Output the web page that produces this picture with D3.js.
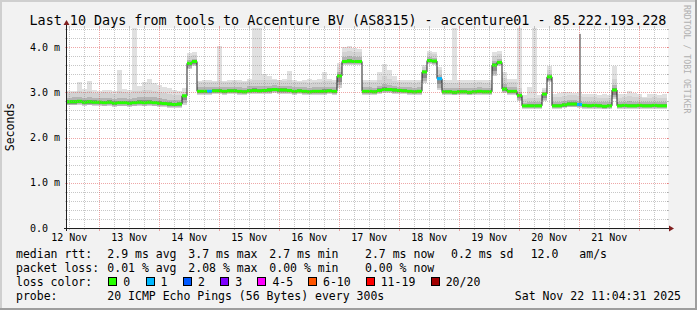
<!DOCTYPE html>
<html><head><meta charset="utf-8">
<script src="https://cdn.jsdelivr.net/npm/d3@7"></script>
<style>body{margin:0;background:#f2f2f2}svg{display:block}</style>
</head><body><svg id="c" width="697" height="310"></svg>
<script>
// ---- data (2-hour consolidated samples, 20 pings each) ----
const titleText = "Last 10 Days from tools to Accenture BV (AS8315) - accenture01 - 85.222.193.228";
const startTime = Date.UTC(2025, 10, 12, 11, 4, 31);
const stepHours = 2;
const median = [2.79,2.79,2.80,2.78,2.79,2.78,2.78,2.77,2.78,2.76,
2.77,2.77,2.76,2.77,2.78,2.77,2.78,2.77,2.76,2.75,
2.74,2.73,2.74,2.92,3.64,3.68,3.02,3.02,3.02,3.03,
3.03,3.02,3.03,3.03,3.02,3.01,3.03,3.04,3.03,3.04,
3.05,3.06,3.05,3.05,3.04,3.02,3.03,3.02,3.01,3.02,
3.02,3.02,3.03,3.02,3.36,3.68,3.69,3.68,3.68,3.02,
3.02,3.01,3.04,3.06,3.06,3.05,3.04,3.03,3.02,3.01,
3.02,3.45,3.70,3.69,3.30,3.01,3.01,3.00,3.01,3.01,
3.00,3.01,3.02,3.01,3.01,3.60,3.66,3.07,3.02,3.02,
2.93,2.70,2.70,2.70,2.70,2.96,3.34,2.70,2.70,2.72,
2.74,2.74,2.73,2.71,2.70,2.71,2.70,2.69,2.70,3.05,
2.70,2.71,2.70,2.70,2.71,2.70,2.70,2.71,2.70,2.70];
const pingMin = [2.71,2.71,2.72,2.70,2.71,2.70,2.70,2.69,2.70,2.68,
2.69,2.69,2.68,2.69,2.70,2.69,2.70,2.69,2.68,2.67,
2.66,2.65,2.66,2.72,3.52,3.58,2.94,2.95,2.95,2.96,
2.96,2.95,2.96,2.96,2.95,2.94,2.96,2.97,2.96,2.97,
2.97,2.98,2.97,2.97,2.96,2.95,2.96,2.95,2.94,2.95,
2.95,2.95,2.96,2.95,3.10,3.60,3.61,3.60,3.60,2.95,
2.95,2.94,2.96,2.98,2.98,2.97,2.96,2.96,2.95,2.94,
2.95,3.20,3.62,3.61,3.05,2.94,2.94,2.93,2.94,2.94,
2.93,2.94,2.95,2.94,2.94,3.35,3.58,2.98,2.95,2.95,
2.80,2.63,2.63,2.63,2.63,2.80,3.22,2.63,2.63,2.65,
2.67,2.67,2.66,2.64,2.63,2.64,2.63,2.62,2.63,2.85,
2.63,2.64,2.63,2.63,2.64,2.63,2.63,2.64,2.63,2.63];
const ping90 = [2.98,3.00,3.02,3.00,3.03,2.99,2.98,3.00,2.99,2.97,
3.02,3.00,2.98,3.02,3.03,3.05,3.06,3.03,3.00,2.98,
2.96,2.95,2.95,3.00,3.80,3.82,3.22,3.22,3.23,3.22,
3.24,3.22,3.23,3.24,3.22,3.22,3.25,3.28,3.27,3.26,
3.27,3.28,3.26,3.25,3.26,3.22,3.22,3.22,3.21,3.22,
3.22,3.25,3.24,3.22,3.55,3.90,3.92,3.90,3.88,3.22,
3.22,3.22,3.28,3.35,3.30,3.25,3.23,3.22,3.22,3.21,
3.22,3.55,3.86,3.85,3.50,3.20,3.21,3.20,3.21,3.20,
3.20,3.21,3.22,3.21,3.21,3.80,3.85,3.32,3.23,3.22,
3.10,2.86,2.88,2.88,2.87,3.05,3.50,2.90,2.90,2.92,
2.93,2.93,2.92,2.90,2.90,2.90,2.88,2.88,2.88,3.30,
2.88,2.90,2.92,2.90,2.89,2.88,2.88,2.89,2.88,2.88];
const pingMax = [3.02,3.03,3.22,3.08,3.24,3.05,3.02,3.06,3.04,3.03,
3.50,3.08,3.05,4.45,3.13,3.22,3.29,3.20,3.15,3.12,
3.10,3.05,3.02,3.10,3.86,3.88,3.25,3.26,3.27,3.24,
4.02,3.25,3.27,3.26,3.28,3.25,3.30,4.45,4.45,3.40,
3.35,3.30,3.28,3.30,3.47,3.28,3.25,3.28,3.30,3.26,
3.29,3.44,3.30,3.28,3.65,4.00,4.02,3.98,3.96,3.28,
3.27,3.28,3.45,3.62,3.50,3.35,3.28,3.27,3.26,3.27,
3.28,3.60,3.92,3.90,3.55,3.26,3.27,4.45,3.26,3.27,
3.26,3.27,3.28,3.26,3.27,3.90,3.92,3.45,3.30,3.30,
4.45,2.95,3.11,4.45,2.95,3.10,3.57,2.96,2.98,3.00,
3.00,2.99,3.00,2.97,2.96,2.97,2.95,2.96,2.95,3.57,
2.96,2.97,3.02,2.98,2.97,2.90,2.96,2.97,2.95,2.96];
const lossCount = [0,0,0,0,0,0,0,0,0,0, 0,0,0,0,0,0,0,0,0,0,
0,0,0,0,0,0,0,0,1,0, 0,0,0,0,0,0,0,0,0,0, 0,0,0,0,0,0,0,0,0,0,
0,0,0,0,0,0,0,0,0,0, 0,0,0,0,0,0,0,0,0,0, 0,0,0,0,1,0,0,0,0,0,
0,0,0,0,0,0,0,0,0,0, 0,0,0,0,0,0,0,0,0,0, 0,0,1,0,0,0,0,0,0,0,
0,0,0,0,0,0,0,0,0,0];
const spikeIndex = [102];
const spikeValue = [4.29];
const yTicks = [0,1,2,3,4];
const lossColors = ['#26ff00','#00b8ff','#0059ff','#7e00ff','#ff00ff','#ff5500','#ff0000','#a10000'];
const lossLabels = ['0','1','2','3','4-5','6-10','11-19','20/20'];
const rowLabels = ['median rtt:','packet loss:','loss color:','probe:'];
const rttStats = ['2.9 ms avg','3.7 ms max','2.7 ms min','2.7 ms now','0.2 ms sd','12.0','am/s'];
const lossStats = ['0.01 % avg','2.08 % max','0.00 % min','0.00 % now'];
const probeText = '20 ICMP Echo Pings (56 Bytes) every 300s';
const dateText = 'Sat Nov 22 11:04:31 2025';

// ---- layout ----
const W = 697, H = 310, X0 = 67, X1 = 667, Y0 = 228, Y1 = 28;
const MONO = "'DejaVu Sans Mono', monospace";
const HOUR = 3600e3;
const endTime = startTime + 240 * HOUR;
const n = median.length;
const tAt = i => startTime + i * stepHours * HOUR;

const svg = d3.select('#c');
const x = d3.scaleUtc().domain([startTime, endTime]).range([X0, X1]);
const y = d3.scaleLinear().domain([0, 4.42]).range([Y0, Y1]);

svg.append('rect').attr('width', W).attr('height', H).attr('fill', '#f2f2f2');
svg.append('rect').attr('x',0).attr('y',0).attr('width',W).attr('height',2).attr('fill','#cfcfcf');
svg.append('rect').attr('x',0).attr('y',0).attr('width',2).attr('height',H).attr('fill','#cfcfcf');
svg.append('rect').attr('x',0).attr('y',H-2).attr('width',W).attr('height',2).attr('fill','#9e9e9e');
svg.append('rect').attr('x',W-2).attr('y',0).attr('width',2).attr('height',H).attr('fill','#9e9e9e');

svg.append('rect').attr('x', X0).attr('y', Y1).attr('width', X1 - X0 + 1).attr('height', Y0 - Y1).attr('fill', '#fff');

svg.append('clipPath').attr('id','plotclip').append('rect')
  .attr('x', X0).attr('y', Y1).attr('width', X1 - X0).attr('height', Y0 - Y1);
const plot = svg.append('g').attr('clip-path', 'url(#plotclip)');

const idx = d3.range(n);
function band(lo, hi, color) {
  plot.append('g').attr('shape-rendering','crispEdges').selectAll('rect').data(idx).join('rect')
    .attr('x', i => x(tAt(i)))
    .attr('width', i => x(tAt(i + 1)) - x(tAt(i)))
    .attr('y', i => y(hi(i)))
    .attr('height', i => Math.max(0, y(lo(i)) - y(hi(i))))
    .attr('fill', color);
}
band(i => pingMin[i], i => pingMax[i], '#e0e0e0');
band(i => pingMin[i], i => ping90[i], '#d2d2d2');
band(i => median[i] - (median[i] - pingMin[i]) * 0.8, i => median[i] + (ping90[i] - median[i]) * 0.45, '#b4b4b4');
band(i => median[i] - (median[i] - pingMin[i]) * 0.5, i => median[i] + (ping90[i] - median[i]) * 0.18, '#8c8c8c');

plot.selectAll('rect.spike').data(spikeIndex).join('rect').attr('class','spike')
  .attr('x', (d) => x(tAt(d)) + 2).attr('width', 2)
  .attr('y', (d, k) => y(spikeValue[k]))
  .attr('height', (d, k) => y(median[d]) - y(spikeValue[k]))
  .attr('fill', '#999');

const pts = [];
idx.forEach(i => { pts.push([x(tAt(i)), y(median[i])]); pts.push([x(tAt(i + 1)), y(median[i])]); });
plot.append('path').attr('d', d3.line()(pts)).attr('fill','none').attr('stroke','#1f1f1f').attr('stroke-width',1);
plot.append('g').selectAll('rect').data(idx).join('rect')
  .attr('x', i => x(tAt(i)))
  .attr('width', i => x(tAt(i + 1)) - x(tAt(i)))
  .attr('y', i => y(median[i]) - 1.5).attr('height', 3)
  .attr('fill', i => lossColors[lossCount[i]]);

// grid (on top, like rrdtool)
const grid = svg.append('g').attr('shape-rendering','crispEdges');
const minorC = 'rgba(143,143,143,0.5)', majorC = 'rgba(222,79,79,0.5)';
const yMinor = d3.range(1, 23).map(k => k * 0.2).filter(v => Math.abs(v - Math.round(v)) > 1e-6);
yMinor.forEach(v => {
  const yy = Math.round(y(v)) + 0.5;
  grid.append('line').attr('x1', X0).attr('x2', X1 + 1).attr('y1', yy).attr('y2', yy).attr('stroke', minorC).attr('stroke-dasharray','1,1');
  grid.append('line').attr('x1', X0 - 2).attr('x2', X0).attr('y1', yy).attr('y2', yy).attr('stroke', minorC);
  grid.append('line').attr('x1', X1).attr('x2', X1 + 2).attr('y1', yy).attr('y2', yy).attr('stroke', minorC);
});
const xMinor = d3.utcHour.every(6).range(new Date(startTime), new Date(endTime)).filter(d => d.getUTCHours() !== 0);
xMinor.forEach(d => {
  const xx = Math.round(x(d)) + 0.5;
  grid.append('line').attr('x1', xx).attr('x2', xx).attr('y1', Y1).attr('y2', Y0).attr('stroke', minorC).attr('stroke-dasharray','1,1');
  grid.append('line').attr('x1', xx).attr('x2', xx).attr('y1', Y0).attr('y2', Y0 + 2).attr('stroke', minorC);
  grid.append('line').attr('x1', xx).attr('x2', xx).attr('y1', Y1 - 2).attr('y2', Y1).attr('stroke', minorC);
});
yTicks.filter(v => v > 0).forEach(v => {
  const yy = Math.round(y(v)) + 0.5;
  grid.append('line').attr('x1', X0).attr('x2', X1 + 1).attr('y1', yy).attr('y2', yy).attr('stroke', majorC).attr('stroke-dasharray','1,1');
  grid.append('line').attr('x1', X0 - 2).attr('x2', X0).attr('y1', yy).attr('y2', yy).attr('stroke', majorC);
  grid.append('line').attr('x1', X1).attr('x2', X1 + 2).attr('y1', yy).attr('y2', yy).attr('stroke', majorC);
});
const xMajor = d3.utcDay.range(new Date(startTime), new Date(endTime));
xMajor.forEach(d => {
  const xx = Math.round(x(d)) + 0.5;
  grid.append('line').attr('x1', xx).attr('x2', xx).attr('y1', Y1).attr('y2', Y0).attr('stroke', majorC).attr('stroke-dasharray','1,1');
  grid.append('line').attr('x1', xx).attr('x2', xx).attr('y1', Y0).attr('y2', Y0 + 3).attr('stroke', majorC);
  grid.append('line').attr('x1', xx).attr('x2', xx).attr('y1', Y1 - 2).attr('y2', Y1).attr('stroke', majorC);
});

// axes
const ax = svg.append('g').attr('shape-rendering','crispEdges');
ax.append('line').attr('x1', X0 - 3).attr('x2', X1 + 3).attr('y1', Y0 + 0.5).attr('y2', Y0 + 0.5).attr('stroke', '#1f1f1f');
ax.append('line').attr('x1', X0 - 0.5).attr('x2', X0 - 0.5).attr('y1', Y0 + 3).attr('y2', Y1 - 3).attr('stroke', '#1f1f1f');
svg.append('path').attr('d', `M${X1+2},${Y0-2.5}L${X1+7},${Y0+0.5}L${X1+2},${Y0+3.5}Z`).attr('fill', '#801f1f');
svg.append('path').attr('d', `M${X0-3.5},${Y1-3}L${X0-0.5},${Y1-8}L${X0+2.5},${Y1-3}Z`).attr('fill', '#801f1f');

svg.append('g').selectAll('text').data(yTicks).join('text')
  .attr('x', 30).attr('y', v => y(v) + 3.5)
  .attr('font-family', MONO).attr('font-size', 10).attr('fill', '#000')
  .text(v => v === 0 ? '0.0' : v.toFixed(1) + ' m');

const labelDays = d3.utcDay.range(new Date(startTime - 12 * HOUR), new Date(endTime - 12 * HOUR))
  .map(d => new Date(+d + 12 * HOUR)).filter(d => +d >= startTime && +d <= endTime);
svg.append('g').selectAll('text').data(labelDays).join('text')
  .attr('x', d => x(d)).attr('y', 241).attr('text-anchor', 'middle')
  .attr('font-family', MONO).attr('font-size', 10).attr('fill', '#000')
  .text(d => d3.utcFormat('%d %b')(d));

svg.append('text').attr('x', 348).attr('y', 25).attr('text-anchor','middle')
  .attr('font-family', MONO).attr('font-size', 13.4).attr('fill','#000').text(titleText);

svg.append('text').attr('transform', 'translate(14,127) rotate(-90)').attr('text-anchor','middle')
  .attr('font-family', MONO).attr('font-size', 11.5).attr('fill','#000').text('Seconds');

svg.append('text').attr('transform', 'translate(683.5,5) rotate(90)')
  .attr('font-family', MONO).attr('font-size', 8.2).attr('fill','#b0b0b0').text('RRDTOOL / TOBI OETIKER');

// legend
const rowY = [258, 272, 286, 300];
const colX = [107.3, 188.3, 269.3, 365, 451, 530.7, 579.3];
const boxX = [108.3, 145.6, 182.9, 220.2, 257.4, 308, 365.7, 430.7];
const lg = svg.append('g').attr('font-family', MONO).attr('font-size', 11.5).attr('fill', '#000');
rowLabels.forEach((t, r) => lg.append('text').attr('x', 16).attr('y', rowY[r]).text(t));
rttStats.forEach((t, k) => lg.append('text').attr('x', colX[k]).attr('y', rowY[0]).text(t));
lossStats.forEach((t, k) => lg.append('text').attr('x', colX[k]).attr('y', rowY[1]).text(t));
lossLabels.forEach((t, k) => {
  const bx = Math.round(boxX[k]) + 0.5;
  lg.append('rect').attr('x', bx).attr('y', 277.5).attr('width', 8).attr('height', 8)
    .attr('fill', lossColors[k]).attr('stroke', '#000').attr('stroke-width', 1);
  lg.append('text').attr('x', boxX[k] + 15).attr('y', rowY[2]).text(t);
});
lg.append('text').attr('x', colX[0]).attr('y', rowY[3]).text(probeText);
lg.append('text').attr('x', 681).attr('y', rowY[3]).attr('text-anchor','end').text(dateText);
</script></body></html>
